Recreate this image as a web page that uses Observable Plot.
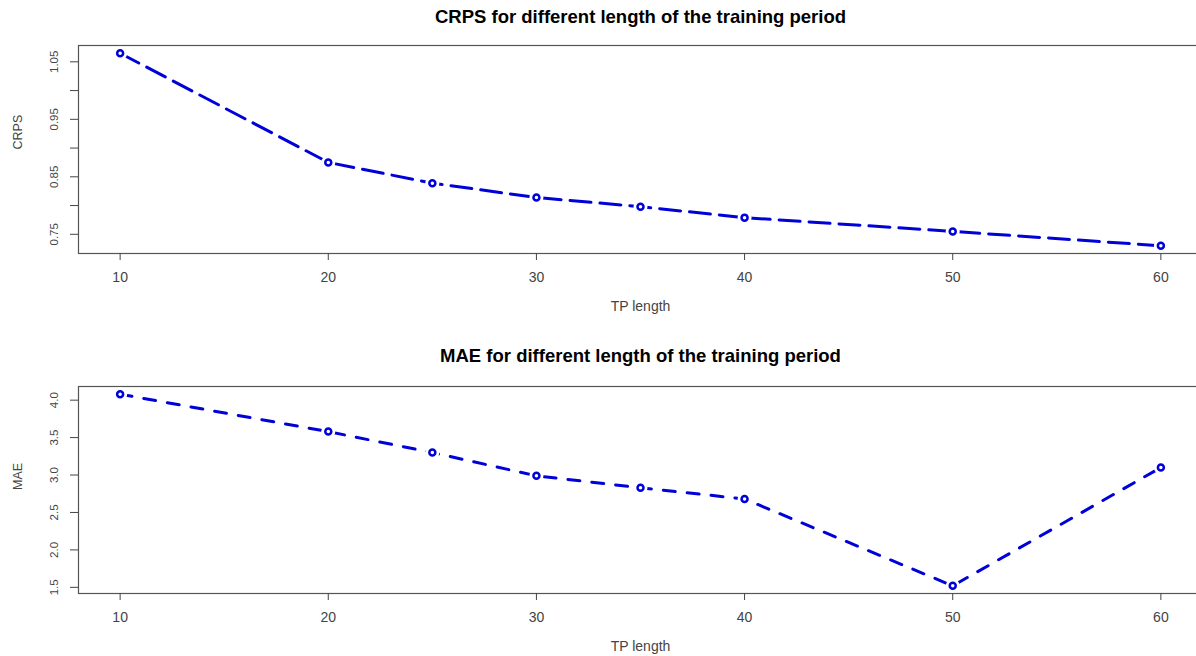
<!DOCTYPE html>
<html><head><meta charset="utf-8">
<script src="https://cdn.jsdelivr.net/npm/d3@7"></script>
<script src="https://cdn.jsdelivr.net/npm/@observablehq/plot@0.6"></script>
<style>
html,body{margin:0;padding:0;background:#fff;overflow:hidden;}
#chart{width:1196px;height:656px;overflow:hidden;position:relative;background:#fff;}
#chart svg{display:block;max-width:none !important;}
</style></head><body><div id="chart"></div>
<script>
// ---- data ----
const tpLength   = [10, 20, 25, 30, 35, 40, 50, 60];
const crpsValues = [1.065, 0.875, 0.839, 0.814, 0.798, 0.779, 0.755, 0.730];
const maeValues  = [4.08, 3.58, 3.30, 2.99, 2.83, 2.68, 1.52, 3.10];
const xTicks = [10, 20, 30, 40, 50, 60];
const crpsTicks = [0.75, 0.80, 0.85, 0.90, 0.95, 1.00, 1.05];
const crpsTickLabels = ["0.75", "0.85", "0.95", "1.05"];
const maeTicks = [1.5, 2.0, 2.5, 3.0, 3.5, 4.0];
const maeTickLabels = ["1.5", "2.0", "2.5", "3.0", "3.5", "4.0"];
const crpsTitle = "CRPS for different length of the training period";
const maeTitle = "MAE for different length of the training period";
const xLabel = "TP length";

const BLUE = "#0000D8";
const FONT = "'Liberation Sans', Arial, Helvetica, sans-serif";

function pad(vals) {
  const [a, b] = d3.extent(vals);
  const r = b - a;
  return [a - 0.04 * r, b + 0.04 * r];
}

function panel({values, title, yLabel, ticks, tickLabels, dash, height, marginTop, marginBottom, titleDy}) {
  const data = tpLength.map((t, i) => ({tp: t, v: values[i]}));
  return Plot.plot({
    width: 1206,
    height,
    marginLeft: 78,
    marginRight: 4,
    marginTop,
    marginBottom,
    style: {fontFamily: FONT, color: "#444", background: "#fff", overflow: "visible", maxWidth: "none", height: height + "px", width: "1206px"},
    x: {domain: pad(tpLength)},
    y: {domain: pad(values)},
    marks: [
      Plot.frame({stroke: "#555", strokeWidth: 1.2}),
      Plot.axisX({ticks: xTicks, tickSize: 7, tickPadding: 12, fontSize: 14, label: null, tickFormat: d => String(d)}),
      Plot.axisY({ticks, tickSize: 8, label: null, tickFormat: () => ""}),
      Plot.text(tickLabels, {y: d => +d, text: d => d, frameAnchor: "left", rotate: -90, dx: -24, fontSize: 11.5, fill: "#444", textAnchor: "middle", lineAnchor: "middle"}),
      Plot.text([yLabel], {frameAnchor: "left", rotate: -90, dx: -61, fontSize: 12.5, fill: "#444", lineAnchor: "middle"}),
      Plot.text([xLabel], {frameAnchor: "bottom", dy: 53, fontSize: 14, fill: "#444", lineAnchor: "middle"}),
      Plot.text([title], {frameAnchor: "top", dy: titleDy, fontSize: 18.5, fontWeight: "bold", fill: "#000", lineAnchor: "middle"}),
      Plot.line(data, {x: "tp", y: "v", stroke: BLUE, strokeWidth: 3, strokeDasharray: dash, strokeLinecap: "round"}),
      Plot.dot(data, {x: "tp", y: "v", r: 7, fill: "#fff", stroke: "#fff", strokeWidth: 0}),
      Plot.dot(data, {x: "tp", y: "v", r: 3, fill: "#fff", stroke: BLUE, strokeWidth: 2.5})
    ]
  });
}

const chart = document.getElementById("chart");
chart.appendChild(panel({
  values: crpsValues, title: crpsTitle, yLabel: "CRPS",
  ticks: crpsTicks, tickLabels: crpsTickLabels, dash: "21,9",
  height: 328, marginTop: 45, marginBottom: 75, titleDy: -28
}));
chart.appendChild(panel({
  values: maeValues, title: maeTitle, yLabel: "MAE",
  ticks: maeTicks, tickLabels: maeTickLabels, dash: "12,12",
  height: 328, marginTop: 58, marginBottom: 63, titleDy: -30
}));
</script></body></html>
